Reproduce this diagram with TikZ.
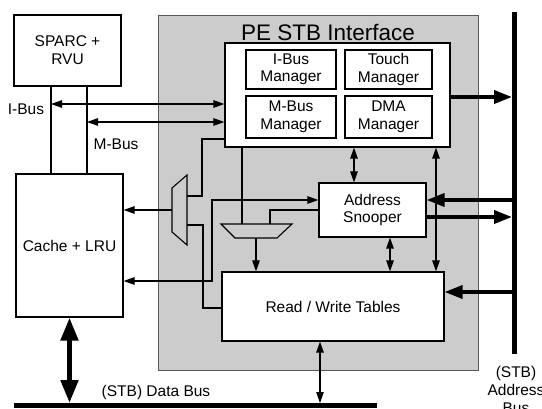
\documentclass[tikz,border=0pt]{standalone}
\usepackage{fontspec}
\setmainfont{Liberation Sans}
\usetikzlibrary{arrows.meta,calc}
\begin{document}
\begin{tikzpicture}[x=1pt,y=-1pt,
  font=\fontsize{15.5}{17.5}\selectfont,
  blk/.style={draw, line width=1.2pt, fill=white, inner sep=0pt, align=center},
  subblk/.style={blk, line width=1.6pt},
  wire/.style={line width=1.1pt},
  dbl/.style={wire, {Triangle[length=11pt,width=7.5pt]}-{Triangle[length=11pt,width=7.5pt]}},
  one/.style={wire, -{Triangle[length=11pt,width=7.5pt]}},
  fat/.style={line width=3.6pt, -{Triangle[length=18pt,width=13pt]}},
  busln/.style={line width=5pt},
  muxshape/.style={wire, line join=miter}
]
\useasboundingbox (0,0) rectangle (542,408);
\fill[white] (0,0) rectangle (542,408);

% interface block and its title
\node[draw=black!65, line width=0.8pt, fill=gray!40, inner sep=0pt,
      minimum width=320pt, minimum height=355pt] (pe) at (318,192.5) {};
\node[font=\fontsize{22.5}{24}\selectfont] (title) at (328,32) {PE STB Interface};

% blocks
\node[blk, minimum width=107pt, minimum height=71pt, font=\fontsize{15.5}{18}\selectfont] (sparc) at (67.5,50.5) {SPARC +\\RVU};
\node[blk, minimum width=107pt, minimum height=143pt] (cache) at (69.5,245.5) {Cache + LRU};
\node[blk, minimum width=225pt, minimum height=104pt] (mgr) at (337.5,95) {};
\node[subblk, minimum width=90pt, minimum height=39pt] (ibm) at (291,69.5) {I-Bus\\Manager};
\node[subblk, minimum width=87pt, minimum height=39pt] (tm) at (388.5,69.5) {Touch\\Manager};
\node[subblk, minimum width=90pt, minimum height=42pt] (mbm) at (291,117) {M-Bus\\Manager};
\node[subblk, minimum width=87pt, minimum height=42pt] (dma) at (388.5,117) {DMA\\Manager};
\node[blk, minimum width=107pt, minimum height=54pt] (snoop) at (372.5,210) {Address\\Snooper};
\node[blk, minimum width=222pt, minimum height=69pt] (rw) at (333,306.5) {Read / Write Tables};

% labels
\node (ilab) at (26,109) {I-Bus};
\node (mlab) at (116,144) {M-Bus};
\node (dlab) at (156,392) {(STB) Data Bus};
\node[align=center, font=\fontsize{15.5}{18}\selectfont] (alab) at (516,390) {(STB)\\Address\\Bus};

% buses
\coordinate (abT) at (514.5,12);
\coordinate (abB) at (514.5,354);
\coordinate (abE) at (512,0);
\coordinate (dbL) at (14,405.5);
\coordinate (dbR) at (377,405.5);
\coordinate (dbT) at (0,403);
\draw[busln] (abT) -- (abB);
\draw[busln] (dbL) -- (dbR);

% heavy arrows to and from the buses
\coordinate (rMg) at (0,97);
\coordinate (rSa) at (0,200);
\coordinate (rSb) at (0,217);
\coordinate (rRW) at (0,292);
\draw[fat] (mgr.east |- rMg) -- (abE |- rMg);
\draw[fat] (abE |- rSa) -- (snoop.east |- rSa);
\draw[fat] (snoop.east |- rSb) -- (abE |- rSb);
\draw[fat] (abE |- rRW) -- (rw.east |- rRW);
\draw[line width=5pt, {Triangle[length=23pt,width=17pt]}-{Triangle[length=23pt,width=17pt]}]
  (cache.south) -- (cache.south |- dbT);

% processor buses
\coordinate (cI) at (51,104);
\coordinate (cM) at (87,122);
\draw[wire] (sparc.south -| cI) -- (cache.north -| cI);
\draw[wire] (sparc.south -| cM) -- (cache.north -| cM);
\draw[dbl] (cI) -- (cI -| mgr.west);
\draw[dbl] (cM) -- (cM -| mgr.west);

% vertical links inside the interface
\coordinate (c1) at (354,0);
\coordinate (c2) at (390,0);
\coordinate (c3) at (436,0);
\coordinate (c4) at (320,0);
\draw[dbl] (mgr.south -| c1) -- (snoop.north -| c1);
\draw[dbl] (snoop.south -| c2) -- (rw.north -| c2);
\draw[dbl] (mgr.south -| c3) -- (rw.north -| c3);
\draw[dbl] (rw.south -| c4) -- (c4 |- dbT);

% left multiplexer feeding the cache
\coordinate (lm1) at (172,188);
\coordinate (lm2) at (187,175);
\coordinate (lm3) at (187,245);
\coordinate (lm4) at (172,232);
\draw[muxshape] (lm1) -- (lm2) -- (lm3) -- (lm4) -- cycle;
\coordinate (lmo) at (172,210);
\coordinate (lmA) at (187,196);
\coordinate (lmB) at (187,225);
\coordinate (j1) at (202,139);
\coordinate (j2) at (203,308);
\draw[one] (lmo) -- (lmo -| cache.east);
\draw[wire] (lmA) -| (j1) -- (j1 -| mgr.west);
\draw[wire] (lmB) -| (j2) -- (j2 -| rw.west);

% cache to snooper link
\coordinate (j3) at (212,281);
\coordinate (j4) at (212,200);
\draw[dbl] (j3 -| cache.east) -- (j3) -- (j4) -- (j4 -| snoop.west);

% lower multiplexer feeding the tables
\coordinate (bm1) at (221,224);
\coordinate (bm2) at (292,224);
\coordinate (bm3) at (277,238);
\coordinate (bm4) at (235,238);
\draw[muxshape] (bm1) -- (bm2) -- (bm3) -- (bm4) -- cycle;
\coordinate (bmo) at (256,238);
\coordinate (bmA) at (242,224);
\coordinate (bmB) at (270,224);
\coordinate (j5) at (270,210);
\draw[one] (bmo) -- (bmo |- rw.north);
\draw[wire] (mgr.south -| bmA) -- (bmA);
\draw[wire] (snoop.west |- j5) -| (bmB);
\end{tikzpicture}
\end{document}
